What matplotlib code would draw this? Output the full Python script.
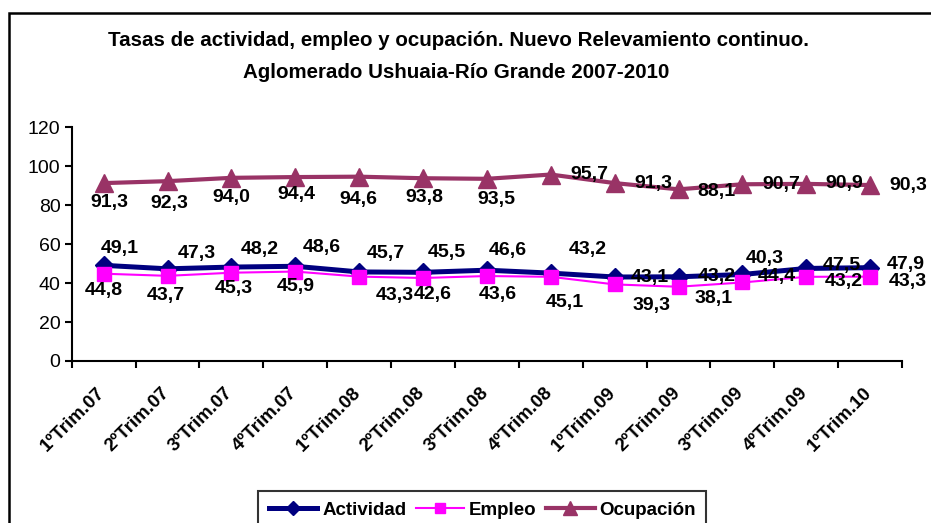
import matplotlib
matplotlib.use("Agg")
import matplotlib.pyplot as plt
import numpy as np
from matplotlib.patches import Rectangle
from matplotlib.transforms import ScaledTranslation

plt.rcParams['font.family'] = ['Liberation Sans', 'DejaVu Sans']

# Datos
trimestres = ['1ºTrim.07', '2ºTrim.07', '3ºTrim.07', '4ºTrim.07',
              '1ºTrim.08', '2ºTrim.08', '3ºTrim.08', '4ºTrim.08',
              '1ºTrim.09', '2ºTrim.09', '3ºTrim.09', '4ºTrim.09', '1ºTrim.10']
actividad = [49.1, 47.3, 48.2, 48.6, 45.7, 45.5, 46.6, 45.1, 43.1, 43.2, 44.4, 47.5, 47.9]
empleo = [44.8, 43.7, 45.3, 45.9, 43.3, 42.6, 43.6, 43.2, 39.3, 38.1, 40.3, 43.2, 43.3]
ocupacion = [91.3, 92.3, 94.0, 94.4, 94.6, 93.8, 93.5, 95.7, 91.3, 88.1, 90.7, 90.9, 90.3]

# Desplazamiento de las etiquetas (pixeles, x a la derecha, y hacia arriba)
off_act = [(16, 17), (29, 15), (28, 18), (27, 19), (27, 18), (24, 20), (21, 20),
           (14, -29), (35, 0), (38, 0), (34, -2), (35, 3), (36, 3)]
off_emp = [(0, -17), (-2, -20), (2, -16), (0, -15), (36, -19), (10, -17), (11, -18),
           (37, 27), (37, -21), (35, -12), (22, 24), (37, -5), (38, -5)]
off_ocu = [(6, -19), (2, -22), (0, -20), (1, -17), (-1, -23), (1, -19), (9, -21),
           (39, 0), (39, 0), (38, -2), (39, 0), (38, 0), (38, 0)]

fig = plt.figure(figsize=(9.31, 5.23), dpi=100)
ax = fig.add_axes([0.077, 0.3098, 0.892, 0.447])

x = np.arange(len(trimestres))
series = [
    ('Actividad', actividad, '#000080', 'D', 3.6, 9, off_act),
    ('Empleo', empleo, '#FF00FF', 's', 1.5, 10.5, off_emp),
    ('Ocupación', ocupacion, '#993366', '^', 3.0, 13, off_ocu),
]
for nombre, valores, color, marker, lw, ms, offs in series:
    ax.plot(x, valores, color=color, lw=lw, marker=marker, ms=ms,
            markeredgecolor=color, markerfacecolor=color, label=nombre, zorder=3)
    for xi, v, (dx, dy) in zip(x, valores, offs):
        ax.annotate(f"{v:.1f}".replace('.', ','), (xi, v), xytext=(dx, dy),
                    textcoords='offset pixels', ha='center', va='center',
                    fontsize=14, fontweight='bold', zorder=5)

ax.set_xlim(-0.5, len(trimestres) - 0.5)
ax.set_ylim(0, 120)
ax.set_yticks(np.arange(0, 121, 20))
ax.tick_params(axis='y', labelsize=14, length=5, width=1.5, direction='out', pad=3)

ax.set_xticks(np.arange(-0.5, len(trimestres)), labels=[])
ax.set_xticks(x, minor=True)
ax.set_xticklabels(trimestres, minor=True, rotation=45, ha='right',
                   rotation_mode='anchor', fontsize=13.5, fontweight='bold')
ax.tick_params(axis='x', which='major', length=5, width=1.5, direction='out')
ax.tick_params(axis='x', which='minor', length=0, pad=17)
desplaza = ScaledTranslation(-7 / 100, 0, fig.dpi_scale_trans)
for lbl in ax.get_xticklabels(minor=True):
    lbl.set_transform(lbl.get_transform() + desplaza)

for s in ['top', 'right']:
    ax.spines[s].set_visible(False)
for s in ['left', 'bottom']:
    ax.spines[s].set_linewidth(1.5)

fig.text(0.493, 0.922, 'Tasas de actividad, empleo y ocupación. Nuevo Relevamiento continuo.',
         ha='center', va='center', fontsize=14.8, fontweight='bold')
fig.text(0.490, 0.862, 'Aglomerado Ushuaia-Río Grande 2007-2010',
         ha='center', va='center', fontsize=14.8, fontweight='bold')

leg = fig.legend(loc='upper center', bbox_to_anchor=(0.518, 0.061), ncol=3,
                 frameon=True, fancybox=False, edgecolor='black', markerscale=0.75,
                 handlelength=2.6, handletextpad=0.25, columnspacing=0.5,
                 borderpad=0.55, borderaxespad=0, prop={'size': 13.5, 'weight': 'bold'})
leg.get_frame().set_linewidth(1.5)

# Marco del grafico
fig.patches.append(Rectangle((9 / 931, -0.1), 1.1, 1 - 13 / 523 + 0.1, transform=fig.transFigure,
                             fill=False, edgecolor='black', linewidth=1.8))

fig.savefig('out.png', dpi=100)
